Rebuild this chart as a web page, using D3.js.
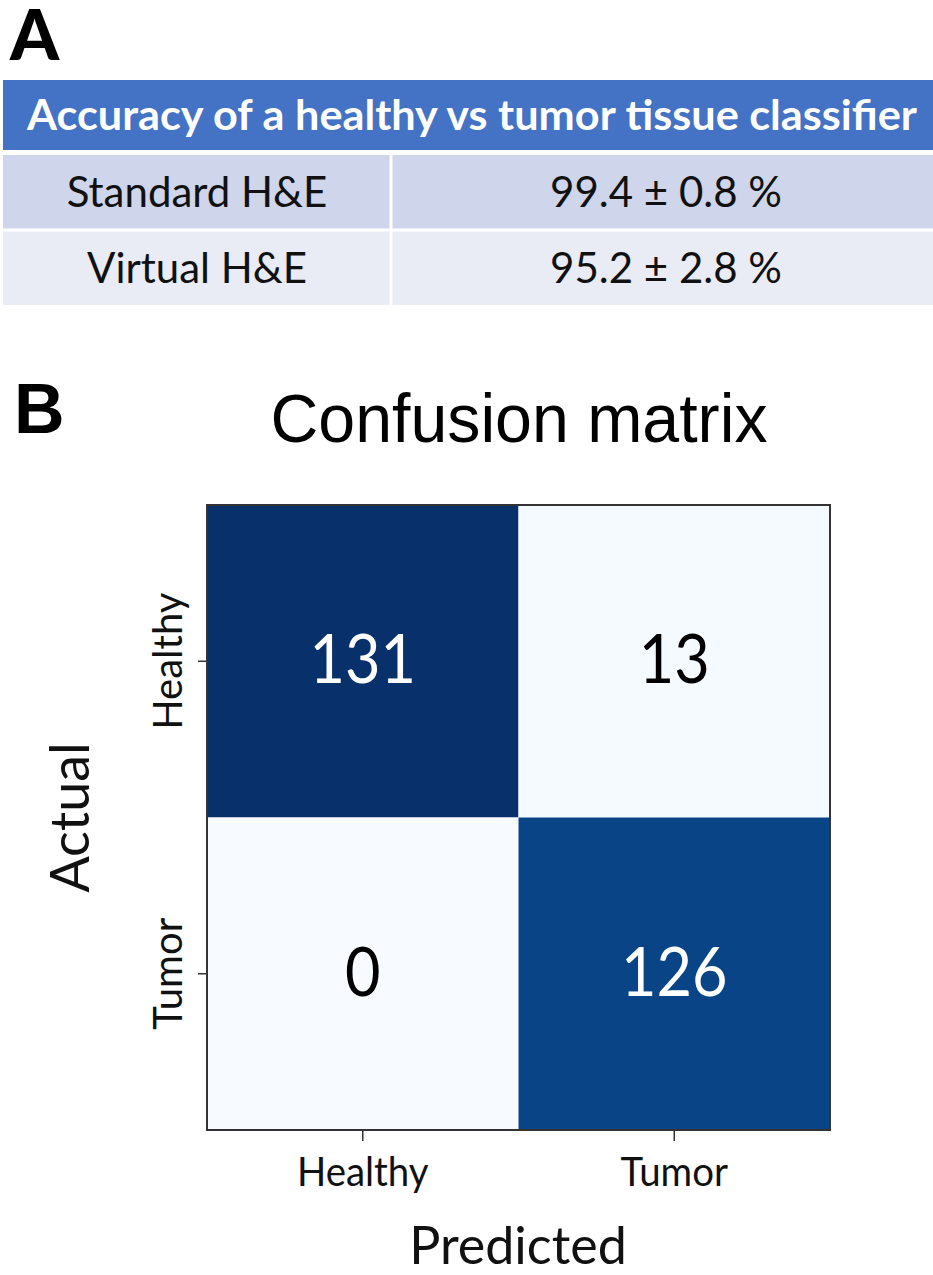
<!DOCTYPE html>
<html>
<head>
<meta charset="utf-8">
<script src="https://cdn.jsdelivr.net/npm/d3@7"></script>
<style>
  body { margin: 0; background: #fff; }
  svg { display: block; }
  text { font-family: Lato, "Open Sans", sans-serif; }
  .arial { font-family: "Liberation Sans", Arial, sans-serif; }
</style>
</head>
<body>
<svg id="fig" width="933" height="1275"></svg>
<script>
// ---------------- data ----------------
const tableTitle = 'Accuracy of a healthy vs tumor tissue classifier'
const methods = ['Standard H&E', 'Virtual H&E']
const accMean = [99.4, 95.2]
const accSd = [0.8, 2.8]

const classes = ['Healthy', 'Tumor']
// rows = actual, columns = predicted
const counts = [
  [131, 13],
  [0, 126]
]

const svg = d3.select('#fig')

// the source picture is a little squeezed horizontally, some text is narrowed to fit
const narrow = (sel, k) => sel.each(function () {
  const w = this.getComputedTextLength()
  d3.select(this).attr('textLength', w * k).attr('lengthAdjust', 'spacingAndGlyphs')
})
const fitTo = (sel, w) => sel.attr('textLength', w).attr('lengthAdjust', 'spacingAndGlyphs')

//----------------------------------------------------------------------------
//------------------------------ PANEL A -------------------------------------
//----------------------------------------------------------------------------

svg.append('text')
  .attr('x', 10).attr('y', 60)
  .attr('font-size', 70).attr('font-weight', 900)
  .text('A')

const tbl = svg.append('g')
const tx0 = 3, tx1 = 941, tSplit = 391

tbl.append('rect')
  .attr('x', tx0).attr('y', 80).attr('width', tx1 - tx0).attr('height', 70)
  .attr('fill', '#4472c4')

tbl.append('text')
  .attr('x', (tx0 + tx1) / 2).attr('y', 130)
  .attr('text-anchor', 'middle')
  .attr('font-size', 42).attr('font-weight', 700)
  .attr('fill', '#fff')
  .text(tableTitle)
  .call(fitTo, 890)

const rowY = d3.scaleBand().domain(methods).range([155, 305]).paddingInner(0.04)
const rowFill = ['#cfd5ea', '#e9ebf5']

const rows = tbl.selectAll('g.row')
  .data(methods)
  .join('g')
  .attr('class', 'row')
  .attr('transform', d => `translate(0,${rowY(d)})`)

rows.append('rect')
  .attr('x', tx0).attr('width', tSplit - tx0 - 1.5)
  .attr('height', rowY.bandwidth())
  .attr('fill', (d, i) => rowFill[i])

rows.append('rect')
  .attr('x', tSplit + 1.5).attr('width', tx1 - tSplit - 1.5)
  .attr('height', rowY.bandwidth())
  .attr('fill', (d, i) => rowFill[i])

rows.append('text')
  .attr('x', (tx0 + tSplit) / 2)
  .attr('y', rowY.bandwidth() / 2 + 15)
  .attr('text-anchor', 'middle')
  .attr('font-size', 42)
  .attr('fill', '#111')
  .text(d => d)

rows.append('text')
  .attr('x', 666)
  .attr('y', rowY.bandwidth() / 2 + 15)
  .attr('text-anchor', 'middle')
  .attr('font-size', 42)
  .attr('fill', '#111')
  .text((d, i) => `${accMean[i].toFixed(1)} \u00b1 ${accSd[i].toFixed(1)} %`)

//----------------------------------------------------------------------------
//------------------------------ PANEL B -------------------------------------
//----------------------------------------------------------------------------

svg.append('text')
  .attr('class', 'arial')
  .attr('x', 14).attr('y', 433)
  .attr('font-size', 70).attr('font-weight', 700)
  .text('B')

svg.append('text')
  .attr('class', 'arial')
  .attr('x', 519).attr('y', 442)
  .attr('text-anchor', 'middle')
  .attr('font-size', 68)
  .text('Confusion matrix')
  .call(fitTo, 497)

const x = d3.scaleBand().domain(classes).range([207, 830])
const y = d3.scaleBand().domain(classes).range([505, 1130])

const maxCount = d3.max(counts.flat())
const color = d3.scaleSequential(t => d3.interpolateBlues(t * t)).domain([0, maxCount])

const cells = counts.flatMap((row, i) => row.map((v, j) => ({actual: classes[i], predicted: classes[j], value: v})))

const cm = svg.append('g')

cm.selectAll('rect.cell')
  .data(cells)
  .join('rect')
  .attr('class', 'cell')
  .attr('x', d => x(d.predicted))
  .attr('y', d => y(d.actual))
  .attr('width', x.bandwidth())
  .attr('height', y.bandwidth())
  .attr('fill', d => color(d.value))

cm.selectAll('text.val')
  .data(cells)
  .join('text')
  .attr('class', 'val')
  .attr('x', d => x(d.predicted) + x.bandwidth() / 2)
  .attr('y', d => y(d.actual) + y.bandwidth() / 2 + 22)
  .attr('text-anchor', 'middle')
  .attr('font-size', 68)
  .attr('fill', d => d.value > maxCount / 2 ? '#fff' : '#000')
  .text(d => d.value)
  .call(narrow, 0.9)

// frame
cm.append('rect')
  .attr('x', x.range()[0]).attr('y', y.range()[0])
  .attr('width', x.range()[1] - x.range()[0])
  .attr('height', y.range()[1] - y.range()[0])
  .attr('fill', 'none')
  .attr('stroke', '#333')
  .attr('stroke-width', 2)

const xAxis = svg.append('g')
  .attr('transform', `translate(0,${y.range()[1]})`)
  .call(d3.axisBottom(x).tickSize(11).tickPadding(17))
xAxis.select('.domain').remove()
xAxis.selectAll('.tick line').attr('stroke', '#333').attr('stroke-width', 1.5)
xAxis.selectAll('.tick text')
  .attr('font-family', 'Lato, sans-serif')
  .attr('font-size', 40)
  .attr('fill', '#111')
  .call(narrow, 0.96)

const yAxis = svg.append('g')
  .attr('transform', `translate(${x.range()[0]},0)`)
  .call(d3.axisLeft(y).tickSize(9).tickPadding(0))
yAxis.select('.domain').remove()
yAxis.selectAll('.tick line').attr('stroke', '#333').attr('stroke-width', 1.5)
yAxis.selectAll('.tick text')
  .attr('font-family', 'Lato, sans-serif')
  .attr('font-size', 40)
  .attr('fill', '#111')
  .attr('text-anchor', 'middle')
  .attr('x', null).attr('dy', null)
  .attr('transform', 'translate(-25,0) rotate(-90)')

svg.append('text')
  .attr('x', 518).attr('y', 1264)
  .attr('text-anchor', 'middle')
  .attr('font-size', 52)
  .attr('fill', '#111')
  .text('Predicted')

svg.append('text')
  .attr('transform', `translate(89,${(y.range()[0] + y.range()[1]) / 2}) rotate(-90)`)
  .attr('text-anchor', 'middle')
  .attr('font-size', 54)
  .attr('fill', '#111')
  .text('Actual')
</script>
</body>
</html>
